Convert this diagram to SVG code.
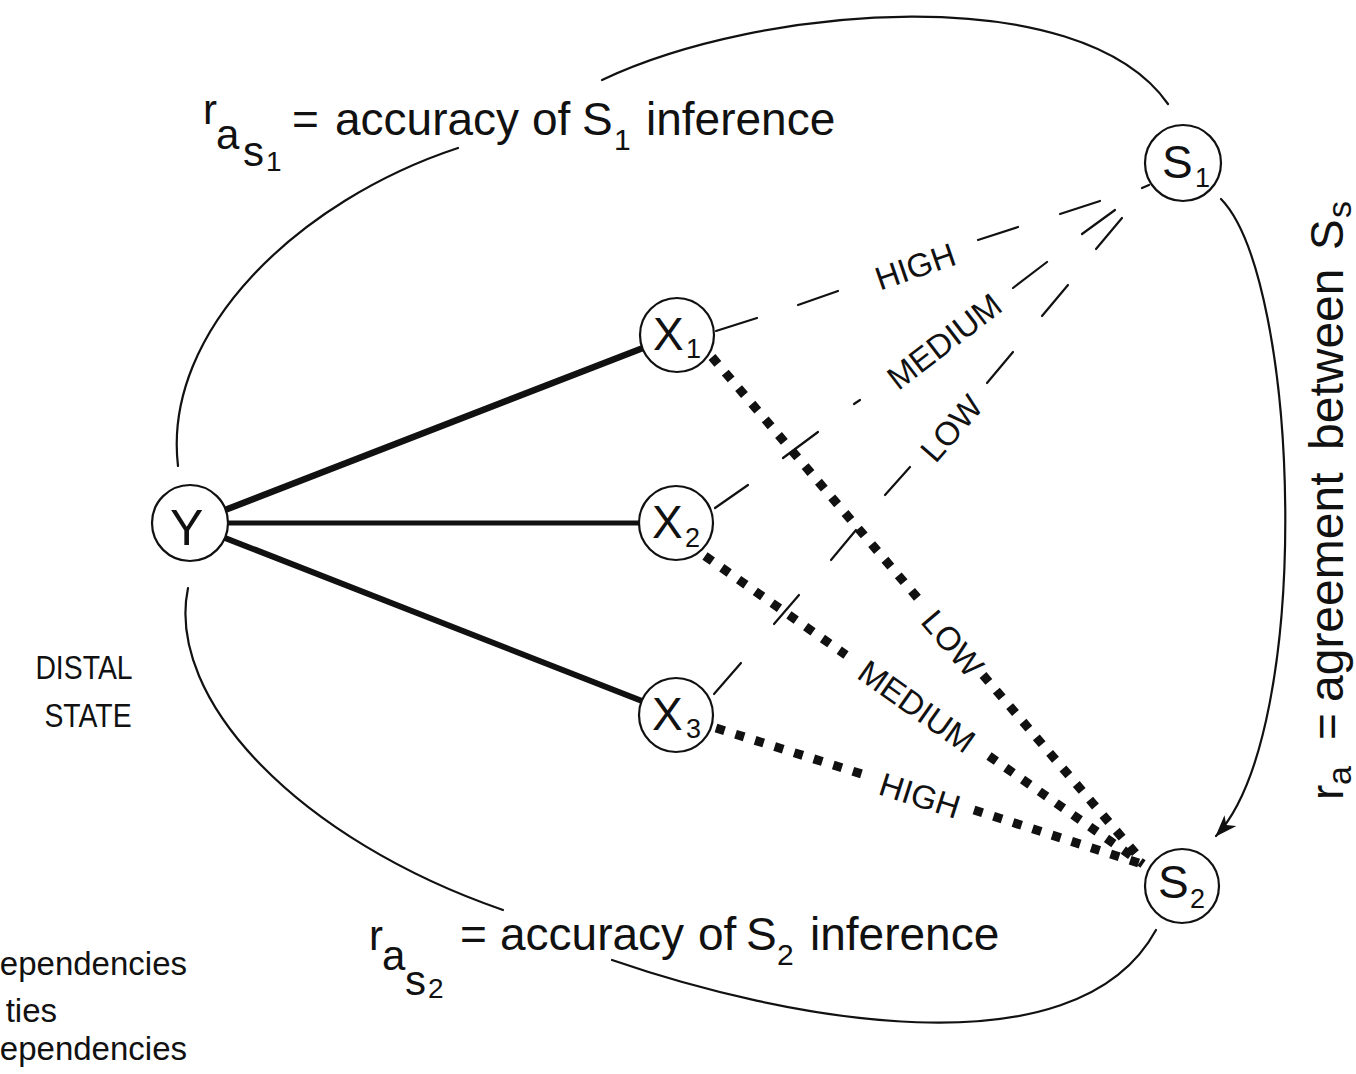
<svg xmlns="http://www.w3.org/2000/svg" width="1356" height="1074" viewBox="0 0 1356 1074">
<defs>
<style>
text { font-family: "Liberation Sans", Arial, sans-serif; fill: #111; }
.node { fill: #fff; stroke: #111; stroke-width: 2.2; }
.thin { fill: none; stroke: #111; stroke-width: 2.2; stroke-linecap: round; }
.thick { fill: none; stroke: #111; }
.dot { fill: none; stroke: #111; stroke-width: 9; stroke-dasharray: 9 11.5; }
.lbl { font-size: 33px; text-anchor: middle; }
.big { font-size: 46px; }
.mid { font-size: 42px; }
.sub { font-size: 28px; }
.ns { font-size: 46px; }
.nsub { font-size: 27px; }
.side { font-size: 33px; text-anchor: end; }
.dist { font-size: 33px; text-anchor: middle; }
</style>
<marker id="arrow" viewBox="0 0 22 16" refX="21" refY="8" markerWidth="22" markerHeight="16" markerUnits="userSpaceOnUse" orient="auto">
<path d="M0,0 L22,8 L0,16 L6,8 Z" fill="#111"/>
</marker>
</defs>
<rect width="1356" height="1074" fill="#fff"/>

<g id="connectors">
  <!-- arcs -->
  <path class="thin" d="M178 466 C162 330 300 200 458 148"/>
  <path class="thin" d="M602 80 C760 5 1080 -22 1168 104"/>
  <path class="thin" d="M1221 199 C1300 280 1315 730 1216 836" marker-end="url(#arrow)"/>
  <path class="thin" d="M188 588 C165 700 300 840 503 910"/>
  <path class="thin" d="M612 960 C780 1018 1075 1078 1156 930"/>
  <!-- thick lines Y to X -->
  <line class="thick" x1="225" y1="510" x2="643" y2="348" stroke-width="6.5"/>
  <line class="thick" x1="228" y1="523" x2="639" y2="523" stroke-width="5"/>
  <line class="thick" x1="225" y1="538" x2="642" y2="701" stroke-width="6"/>
  <!-- dotted lines X to S2 -->
  <line class="dot" x1="712" y1="357" x2="921" y2="602"/>
  <line class="dot" x1="983" y1="675" x2="1143" y2="862"/>
  <line class="dot" x1="705" y1="556" x2="846" y2="655"/>
  <line class="dot" x1="989" y1="756" x2="1143" y2="864"/>
  <line class="dot" x1="716" y1="728" x2="865" y2="775"/>
  <line class="dot" x1="974" y1="810" x2="1145" y2="865"/>
  <!-- dashed lines X to S1: HIGH -->
  <line class="thin" x1="716" y1="331" x2="757" y2="318"/>
  <line class="thin" x1="798" y1="305" x2="838" y2="291"/>
  <line class="thin" x1="978" y1="240" x2="1018" y2="227"/>
  <line class="thin" x1="1060" y1="214" x2="1100" y2="201"/>
  <!-- MEDIUM -->
  <line class="thin" x1="715" y1="508" x2="748" y2="485"/>
  <line class="thin" x1="783" y1="458" x2="818" y2="432"/>
  <line class="thin" x1="854" y1="404" x2="860" y2="400"/>
  <line class="thin" x1="1013" y1="288" x2="1047" y2="262"/>
  <line class="thin" x1="1082" y1="234" x2="1115" y2="210"/>
  <!-- LOW -->
  <line class="thin" x1="714" y1="694" x2="741" y2="663"/>
  <line class="thin" x1="774" y1="624" x2="799" y2="595"/>
  <line class="thin" x1="831" y1="560" x2="856" y2="530"/>
  <line class="thin" x1="885" y1="495" x2="910" y2="467"/>
  <line class="thin" x1="987" y1="383" x2="1013" y2="352"/>
  <line class="thin" x1="1042" y1="316" x2="1068" y2="285"/>
  <line class="thin" x1="1096" y1="249" x2="1122" y2="218"/>
  <line class="thin" x1="1142" y1="188" x2="1149" y2="185"/>
  <!-- connector labels -->
  <g transform="translate(915,266) rotate(-19)"><text class="lbl" y="12">HIGH</text></g>
  <g transform="translate(944,341) rotate(-37.5)"><text class="lbl" y="12">MEDIUM</text></g>
  <g transform="translate(951,428) rotate(-49)"><text class="lbl" y="12">LOW</text></g>
  <g transform="translate(953,643) rotate(49.5)"><text class="lbl" y="12">LOW</text></g>
  <g transform="translate(917,706) rotate(35.2)"><text class="lbl" y="12">MEDIUM</text></g>
  <g transform="translate(920,795) rotate(17.7)"><text class="lbl" y="12">HIGH</text></g>
</g>

<g id="node-Y">
  <circle class="node" cx="190" cy="523" r="38"/>
  <text x="170" y="545" font-size="50">Y</text>
</g>
<g id="node-X1">
  <circle class="node" cx="677" cy="335" r="37"/>
  <text class="ns" x="653" y="350">X</text><text class="nsub" x="686" y="358">1</text>
</g>
<g id="node-X2">
  <circle class="node" cx="676" cy="523" r="37"/>
  <text class="ns" x="652" y="538">X</text><text class="nsub" x="685" y="547">2</text>
</g>
<g id="node-X3">
  <circle class="node" cx="676" cy="715" r="37"/>
  <text class="ns" x="652" y="730">X</text><text class="nsub" x="686" y="738">3</text>
</g>
<g id="node-S1">
  <circle class="node" cx="1183" cy="163" r="38"/>
  <text class="ns" x="1162" y="178">S</text><text class="nsub" x="1195" y="187">1</text>
</g>
<g id="node-S2">
  <circle class="node" cx="1182" cy="886" r="37"/>
  <text class="ns" x="1158" y="898">S</text><text class="nsub" x="1190" y="908">2</text>
</g>

<g id="label-top">
  <text class="mid" x="203" y="124">r</text>
  <text class="mid" x="216" y="149">a</text>
  <text class="mid" x="243" y="166">s</text>
  <text class="sub" x="266" y="171">1</text>
  <text class="big" x="292" y="135">=</text>
  <text class="big" x="335" y="135">accuracy</text>
  <text class="big" x="532" y="135">of</text>
  <text class="big" x="582" y="135">S</text>
  <text font-size="30" x="614" y="150">1</text>
  <text class="big" x="646" y="135">inference</text>
</g>

<g id="label-bottom">
  <text class="mid" x="369" y="950">r</text>
  <text class="mid" x="382" y="970">a</text>
  <text class="mid" x="405" y="995">s</text>
  <text class="sub" x="428" y="998">2</text>
  <text class="big" x="460" y="950">=</text>
  <text class="big" x="500" y="950">accuracy</text>
  <text class="big" x="698" y="950">of</text>
  <text class="big" x="746" y="950">S</text>
  <text font-size="30" x="777" y="965">2</text>
  <text class="big" x="810" y="950">inference</text>
</g>

<g id="label-right" transform="translate(1343,0) rotate(-90)">
  <text font-size="46" x="-800" y="0">r</text>
  <text font-size="34" x="-785" y="8">a</text>
  <text font-size="46" x="-740" y="0">=</text>
  <text font-size="48" x="-702" y="0">agreement</text>
  <text font-size="48" x="-450" y="0">between</text>
  <text font-size="46" x="-250" y="0">S</text>
  <text font-size="34" x="-218" y="8">s</text>
</g>

<g id="label-distal">
  <text class="dist" transform="translate(84,679) scale(0.86,1)">DISTAL</text>
  <text class="dist" transform="translate(88,727) scale(0.86,1)">STATE</text>
</g>

<g id="label-side">
  <text class="side" x="187" y="975">ependencies</text>
  <text class="side" x="57" y="1022">ties</text>
  <text class="side" x="187" y="1060">ependencies</text>
</g>
</svg>
